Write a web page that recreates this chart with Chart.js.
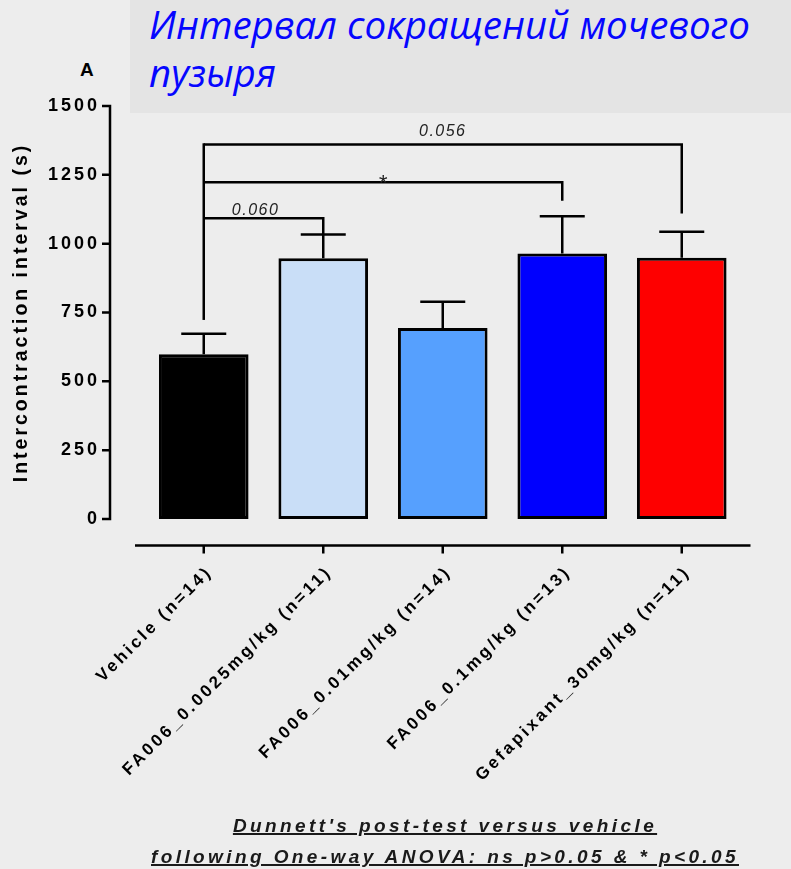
<!DOCTYPE html>
<html lang="ru">
<head>
<meta charset="utf-8">
<title>Интервал сокращений мочевого пузыря</title>
<script src="https://cdn.jsdelivr.net/npm/chart.js@4.4.1/dist/chart.umd.min.js"></script>
<style>
  html, body { margin: 0; padding: 0; background: #ededed; }
  #stage { position: relative; width: 791px; height: 869px; overflow: hidden; background: #ededed; }
  #headline {
    position: absolute; left: 130px; top: 0; width: 661px; height: 113px;
    box-sizing: border-box; padding: 0 0 0 19px; background: #e4e4e4;
    font-family: 'Open Sans', sans-serif; font-style: italic; font-size: 38.5px; line-height: 48px;
    color: #0606ff; white-space: nowrap;
  }
  #panel {
    position: absolute; left: 80px; top: 60px;
    font: bold 19px/19px 'Liberation Sans', Arial, sans-serif; color: #000;
  }
  #chart { position: absolute; left: 0; top: 0; }
  #footnote {
    position: absolute; left: 95px; width: 700px; top: 810px; text-align: center;
    font: italic bold 19px/31px 'Liberation Sans', Arial, sans-serif; letter-spacing: 3.4px;
    color: #1a1a1a; text-decoration: underline; text-decoration-thickness: 1.5px; white-space: nowrap;
  }
</style>
</head>
<body>
<div id="stage">
  <div id="headline">Интервал сокращений мочевого<br>пузыря</div>
  <div id="panel">A</div>
  <canvas id="chart" width="791" height="869"></canvas>
  <div id="footnote">Dunnett's post-test versus vehicle<br>following One-way ANOVA: ns p&gt;0.05 &amp; * p&lt;0.05</div>
</div>
<script>
// Groups and their mean intercontraction interval (s) with SEM
const categories = [
  'Vehicle (n=14)',
  'FA006_0.0025mg/kg (n=11)',
  'FA006_0.01mg/kg (n=14)',
  'FA006_0.1mg/kg (n=13)',
  'Gefapixant_30mg/kg (n=11)'
];
const groupMeans = [598, 947, 694, 964, 949];
const groupSem = [75, 86, 95, 136, 94];
const barColors = ['#000000', '#c9def7', '#56a0fe', '#0000fe', '#fe0000'];
const yTickValues = [0, 250, 500, 750, 1000, 1250, 1500];

// Dunnett comparisons against Vehicle (group 0)
const compareWith = [1, 3, 4];
const compareLabels = ['0.060', '*', '0.056'];
const bracketLevels = [1092, 1223, 1360];
const bracketLegEnds = [1033, 1156, 1110];
const vehicleLegEnd = 723;

const FONT = "'Liberation Sans', Arial, sans-serif";

// Prism-style spaced lettering for the axis texts
const spacedText = {
  id: 'spacedText',
  beforeDraw(chart) { chart.ctx.letterSpacing = '3px'; }
};

// Axes drawn detached from the plotting area
const detachedAxes = {
  id: 'detachedAxes',
  beforeDatasetsDraw(chart) {
    const { ctx, chartArea: a, scales: { x, y } } = chart;
    ctx.save();
    ctx.strokeStyle = '#000';
    ctx.lineWidth = 2.5;
    const ax = a.left - 34;
    ctx.beginPath();
    ctx.moveTo(ax, y.getPixelForValue(y.max) - 1.25);
    ctx.lineTo(ax, y.getPixelForValue(y.min) + 1.25);
    y.ticks.forEach(t => {
      const py = y.getPixelForValue(t.value);
      ctx.moveTo(ax - 8, py);
      ctx.lineTo(ax + 1.25, py);
    });
    ctx.stroke();
    const ay = a.bottom + 26.5;
    ctx.beginPath();
    ctx.moveTo(a.left - 9, ay);
    ctx.lineTo(a.right + 9, ay);
    categories.forEach((c, i) => {
      const px = x.getPixelForValue(i);
      ctx.moveTo(px, ay);
      ctx.lineTo(px, ay + 8);
    });
    ctx.stroke();
    ctx.restore();
  }
};

// Upper SEM whiskers with caps
const errorBars = {
  id: 'errorBars',
  afterDatasetsDraw(chart) {
    const { ctx, scales: { x, y } } = chart;
    ctx.save();
    ctx.strokeStyle = '#000';
    ctx.lineWidth = 2.5;
    ctx.beginPath();
    groupMeans.forEach((m, i) => {
      const px = x.getPixelForValue(i);
      const y0 = y.getPixelForValue(m);
      const y1 = y.getPixelForValue(m + groupSem[i]);
      ctx.moveTo(px, y0);
      ctx.lineTo(px, y1);
      ctx.moveTo(px - 22.5, y1);
      ctx.lineTo(px + 22.5, y1);
    });
    ctx.stroke();
    ctx.restore();
  }
};

// Significance brackets from Vehicle to each compared group
const brackets = {
  id: 'brackets',
  afterDatasetsDraw(chart, args, opts) {
    const { ctx, scales: { x, y } } = chart;
    const x0 = x.getPixelForValue(0);
    ctx.save();
    ctx.strokeStyle = '#000';
    ctx.lineWidth = 2.5;
    ctx.lineJoin = 'miter';
    ctx.beginPath();
    ctx.moveTo(x0, y.getPixelForValue(Math.max(...bracketLevels)) - 1.25);
    ctx.lineTo(x0, y.getPixelForValue(vehicleLegEnd));
    ctx.stroke();
    compareWith.forEach((g, k) => {
      const x1 = x.getPixelForValue(g);
      const yb = y.getPixelForValue(bracketLevels[k]);
      ctx.beginPath();
      ctx.moveTo(x0, yb);
      ctx.lineTo(x1, yb);
      ctx.lineTo(x1, y.getPixelForValue(bracketLegEnds[k]));
      ctx.stroke();
    });
    ctx.fillStyle = '#222';
    ctx.letterSpacing = '1.5px';
    ctx.textAlign = 'center';
    ctx.textBaseline = 'alphabetic';
    compareWith.forEach((g, k) => {
      const x1 = x.getPixelForValue(g);
      const yb = y.getPixelForValue(bracketLevels[k]);
      const tx = x0 + (x1 - x0) * opts.labelAt[k];
      ctx.font = 'italic ' + opts.labelSize[k] + 'px ' + FONT;
      ctx.fillText(compareLabels[k], tx, yb - opts.labelGap[k]);
    });
    ctx.restore();
  }
};

new Chart(document.getElementById('chart'), {
  type: 'bar',
  data: {
    labels: categories,
    datasets: [{
      data: groupMeans,
      backgroundColor: barColors,
      borderColor: '#000',
      borderWidth: 3,
      borderSkipped: false,
      barPercentage: 0.75,
      categoryPercentage: 1
    }]
  },
  options: {
    responsive: false,
    animation: false,
    devicePixelRatio: 1,
    layout: { padding: { top: 106, right: 49.5, bottom: 0, left: 0 } },
    plugins: {
      legend: { display: false },
      tooltip: { enabled: false },
      brackets: { labelAt: [0.434, 0.5, 0.5], labelGap: [3, -8, 9], labelSize: [16, 22, 16] }
    },
    scales: {
      x: {
        grid: { display: false, drawTicks: false },
        border: { display: false },
        ticks: {
          autoSkip: false, minRotation: 45, maxRotation: 45,
          padding: 43, labelOffset: 6,
          color: '#000', font: { family: FONT, size: 17, weight: 'bold' }
        },
        afterFit: s => { s.height = 350; }
      },
      y: {
        min: 0, max: 1500,
        grid: { display: false, drawTicks: false },
        border: { display: false },
        afterBuildTicks: s => { s.ticks = yTickValues.map(v => ({ value: v })); },
        ticks: {
          padding: 44, color: '#000',
          font: { family: FONT, size: 18, weight: 'bold' },
          callback: v => String(v)
        },
        title: {
          display: true, text: 'Intercontraction interval (s)', color: '#000',
          font: { family: FONT, size: 19.5, weight: 'bold' },
          padding: { top: 9.8, bottom: 0 }
        },
        afterFit: s => { s.width = 144; }
      }
    }
  },
  plugins: [spacedText, detachedAxes, errorBars, brackets]
});
</script>
</body>
</html>
